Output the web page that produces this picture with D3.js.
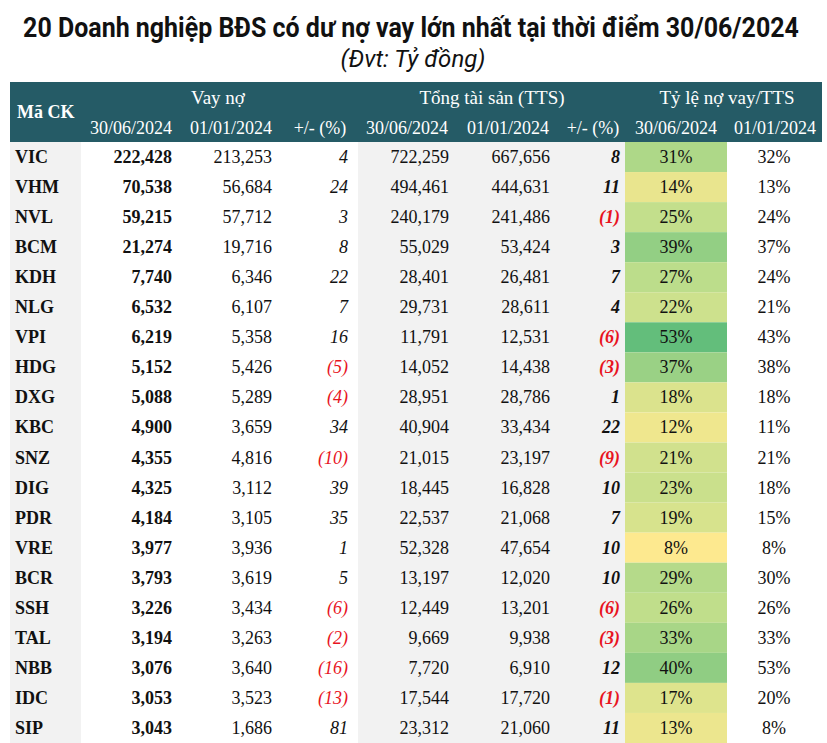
<!DOCTYPE html>
<html><head><meta charset="utf-8">
<script src="https://cdn.jsdelivr.net/npm/d3@7"></script>
<style>html,body{margin:0;padding:0;background:#fff;}svg{display:block;}</style>
</head><body>
<svg id="chart" width="827" height="743"></svg>
<script>
const codes = ["VIC","VHM","NVL","BCM","KDH","NLG","VPI","HDG","DXG","KBC","SNZ","DIG","PDR","VRE","BCR","SSH","TAL","NBB","IDC","SIP"];
const debtJun = [222428,70538,59215,21274,7740,6532,6219,5152,5088,4900,4355,4325,4184,3977,3793,3226,3194,3076,3053,3043];
const debtJan = [213253,56684,57712,19716,6346,6107,5358,5426,5289,3659,4816,3112,3105,3936,3619,3434,3263,3640,3523,1686];
const debtChg = [4,24,3,8,22,7,16,-5,-4,34,-10,39,35,1,5,-6,-2,-16,-13,81];
const assetJun = [722259,494461,240179,55029,28401,29731,11791,14052,28951,40904,21015,18445,22537,52328,13197,12449,9669,7720,17544,23312];
const assetJan = [667656,444631,241486,53424,26481,28611,12531,14438,28786,33434,23197,16828,21068,47654,12020,13201,9938,6910,17720,21060];
const assetChg = [8,11,-1,3,7,4,-6,-3,1,22,-9,10,7,10,10,-6,-3,12,-1,11];
const ratioJun = [31,14,25,39,27,22,53,37,18,12,21,23,19,8,29,26,33,40,17,13];
const ratioJan = [32,13,24,37,24,21,43,38,18,11,21,18,15,8,30,26,33,53,20,8];
const groupLabels = ["Vay nợ","Tổng tài sản (TTS)","Tỷ lệ nợ vay/TTS"];
const subLabels = ["30/06/2024","01/01/2024","+/- (%)","30/06/2024","01/01/2024","+/- (%)","30/06/2024","01/01/2024"];
const title = "20 Doanh nghiệp BĐS có dư nợ vay lớn nhất tại thời điểm 30/06/2024";
const subtitle = "(Đvt: Tỷ đồng)";

const svg = d3.select("#chart");
const serif = "'Liberation Serif','Times New Roman',serif";
const fmt = d3.format(",");
const fmtChg = v => v < 0 ? "(" + Math.abs(v) + ")" : String(v);

// Title (horizontally condensed via transform to a target width)
function fitText(txt, cx, cy, size, target, weight, style) {
  const g = svg.append("g");
  const t = g.append("text").attr("x", 0).attr("y", 0).attr("text-anchor","middle")
    .attr("font-family","Roboto, 'Liberation Sans', sans-serif")
    .attr("font-weight", weight).attr("font-style", style)
    .attr("font-size", size).attr("fill","#111").text(txt);
  const w = t.node().getComputedTextLength();
  const sx = Math.min(1, target / w);
  g.attr("transform", `translate(${cx},${cy}) scale(${sx},1)`);
}
fitText(title, 411, 37, 27, 776, "bold", "normal");
fitText(subtitle, 413, 67, 24, 150, "normal", "italic");

// Row scale
const y = d3.scaleBand().domain(codes).range([142, 743]).padding(0);
const rh = y.bandwidth();

// Column background regions
const bgs = [
  {x0:10, x1:81, fill:"#f2f2f2"},
  {x0:81, x1:358, fill:"#ffffff"},
  {x0:358, x1:625, fill:"#f2f2f2"},
  {x0:727, x1:822, fill:"#ffffff"}
];
svg.selectAll("rect.bg").data(bgs).join("rect").attr("class","bg")
  .attr("x", d => d.x0).attr("width", d => d.x1 - d.x0)
  .attr("y", 142).attr("height", 743 - 142).attr("fill", d => d.fill);

// ratio heatmap
const color = d3.scaleLinear().domain([8, 25, 53]).range(["#fde98f","#c3df8c","#63be7b"]);
svg.selectAll("rect.heat").data(codes).join("rect").attr("class","heat")
  .attr("x", 625).attr("width", 102)
  .attr("y", d => y(d)).attr("height", rh)
  .attr("fill", (d,i) => color(ratioJun[i]));

// Header
svg.append("rect").attr("x",10).attr("y",82).attr("width",812).attr("height",60).attr("fill","#255b66");
svg.append("text").attr("x",17).attr("y",118).attr("font-family",serif).attr("font-weight","bold")
  .attr("font-size",18).attr("fill","#fff").text("Mã CK");
const groupX = [218, 492, 727];
svg.selectAll("text.grp").data(groupLabels).join("text").attr("class","grp")
  .attr("x",(d,i)=>groupX[i]).attr("y",104).attr("text-anchor","middle")
  .attr("font-family",serif).attr("font-size",19).attr("fill","#fff").text(d=>d);
const subX = [131, 231, 320, 407, 508, 593, 676, 775];
svg.selectAll("text.sub").data(subLabels).join("text").attr("class","sub")
  .attr("x",(d,i)=>subX[i]).attr("y",134).attr("text-anchor","middle")
  .attr("font-family",serif).attr("font-size",18).attr("fill","#fff").text(d=>d);

// Body
const rows = svg.selectAll("g.row").data(codes).join("g").attr("class","row")
  .attr("transform", d => `translate(0,${y(d) + rh/2 + 6})`);
const cell = (sel, x, anchor, textFn, opts={}) => sel.append("text")
  .attr("x", x).attr("text-anchor", anchor).attr("font-family", serif).attr("font-size", 18)
  .attr("font-weight", opts.bold ? "bold" : "normal")
  .attr("font-style", opts.italic ? "italic" : "normal")
  .attr("fill", opts.colorFn ? (d,i)=>opts.colorFn(i) : "#111")
  .text(textFn);

cell(rows, 15, "start", d => d, {bold:true});
cell(rows, 172, "end", (d,i) => fmt(debtJun[i]), {bold:true});
cell(rows, 272, "end", (d,i) => fmt(debtJan[i]));
cell(rows, 348, "end", (d,i) => fmtChg(debtChg[i]), {italic:true, colorFn: i => debtChg[i] < 0 ? "#e8141e" : "#111"});
cell(rows, 449, "end", (d,i) => fmt(assetJun[i]));
cell(rows, 550, "end", (d,i) => fmt(assetJan[i]));
cell(rows, 620, "end", (d,i) => fmtChg(assetChg[i]), {bold:true, italic:true, colorFn: i => assetChg[i] < 0 ? "#e8141e" : "#111"});
cell(rows, 676, "middle", (d,i) => ratioJun[i] + "%");
cell(rows, 774, "middle", (d,i) => ratioJan[i] + "%");
</script>
</body></html>
